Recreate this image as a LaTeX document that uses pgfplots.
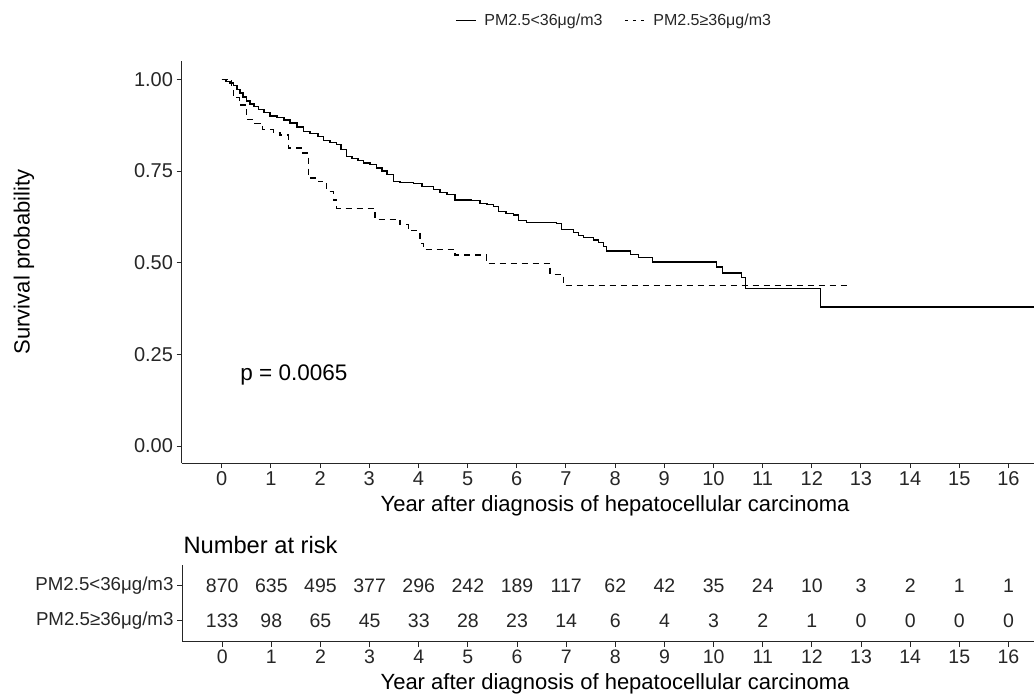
\documentclass[border=0pt]{standalone}
\usepackage{fontspec}
\setmainfont{Liberation Sans}
\usepackage{pgfplots}
\pgfplotsset{compat=1.18}
\newcommand{\fs}[1]{\fontsize{#1}{1.2\dimexpr#1\relax}\selectfont}
\begin{document}
\begin{tikzpicture}
\useasboundingbox (0bp,0bp) rectangle (1034bp,-695bp);
\begin{axis}[
  at={(181.5bp,-463bp)}, anchor=south west,
  scale only axis, width=852.5bp, height=402bp,
  xmin=-0.818, xmax=16.52, ymin=-0.0464, ymax=1.05,
  axis x line*=bottom, axis y line*=left,
  axis line style={-, black!85, line width=0.9bp},
  xtick={0,...,16}, ytick={0,0.25,0.5,0.75,1},
  tick style={black!85, line width=0.9bp}, major tick length=5bp, tick align=outside,
  yticklabel style={/pgf/number format/.cd, fixed, fixed zerofill, precision=2},
  ticklabel style={font=\fs{20bp}, text=black!85},
  /pgf/number format/assume math mode=true,
  legend style={at={(0.5076,1.102)}, anchor=center, draw=none, fill=none,
    font=\fs{16bp}, text=black!85, legend columns=2,
    /tikz/every odd column/.append style={column sep=6bp},
    /tikz/every even column/.append style={column sep=20bp}},
  legend image code/.code={\draw[#1, line width=0.9bp] (0bp,0bp) -- (20bp,0bp);},
]
\addplot[const plot, black, line width=1.2bp] coordinates {
(0,1.000) (0.087,0.995) (0.169,0.990) (0.236,0.984) (0.311,0.972) (0.372,0.963)
(0.433,0.952) (0.509,0.941) (0.576,0.933) (0.657,0.925) (0.745,0.918) (0.860,0.910)
(0.982,0.900) (1.125,0.895) (1.267,0.889) (1.389,0.881) (1.532,0.870) (1.660,0.858)
(1.796,0.852) (1.959,0.845) (2.067,0.833) (2.203,0.828) (2.339,0.822) (2.427,0.808)
(2.543,0.790) (2.651,0.785) (2.773,0.778) (2.880,0.772) (3.017,0.767) (3.153,0.758)
(3.261,0.750) (3.362,0.740) (3.491,0.721) (3.627,0.719) (3.898,0.715) (4.075,0.708)
(4.304,0.699) (4.441,0.692) (4.583,0.685) (4.746,0.671) (5.085,0.669) (5.254,0.662)
(5.397,0.658) (5.525,0.653) (5.627,0.639) (5.783,0.634) (5.932,0.630) (6.033,0.616)
(6.204,0.609) (6.815,0.607) (6.916,0.591) (7.152,0.582) (7.254,0.575) (7.356,0.569)
(7.559,0.562) (7.661,0.554) (7.762,0.543) (7.832,0.532) (8.306,0.523) (8.474,0.513)
(8.767,0.502) (10.069,0.488) (10.191,0.472) (10.565,0.459) (10.659,0.429)
(12.185,0.379) (16.8,0.379)
};
\addlegendentry{PM2.5<36μg/m3}
\addplot[const plot, black, line width=1.2bp, dash pattern=on 6bp off 5bp,
  legend image code/.code={\draw[black, line width=0.9bp, dash pattern=on 3.5bp off 4.5bp] (0bp,0bp) -- (20bp,0bp);}] coordinates {
(0,1.000) (0.203,0.970) (0.236,0.950) (0.358,0.930) (0.509,0.890) (0.677,0.880)
(0.834,0.863) (1.050,0.855) (1.186,0.848) (1.355,0.813) (1.648,0.799) (1.762,0.731)
(1.965,0.721) (2.136,0.694) (2.270,0.671) (2.339,0.648) (3.118,0.618) (3.627,0.603)
(3.796,0.587) (4.034,0.553) (4.101,0.536) (4.746,0.521) (5.386,0.498) (6.678,0.468)
(6.949,0.438) (12.72,0.438)
};
\addlegendentry{PM2.5≥36μg/m3}
\node[anchor=west, font=\fs{22.5bp}, text=black] at (axis cs:0.31,0.193) {p = 0.0065};
\end{axis}

\begin{axis}[
  at={(182bp,-641.7bp)}, anchor=south west,
  scale only axis, width=852bp, height=76.7bp,
  xmin=-0.818, xmax=16.52, ymin=0.4, ymax=2.6,
  axis x line*=bottom, axis y line*=left,
  axis line style={-, black!85, line width=0.9bp},
  xtick={0,...,16}, ytick={1,2},
  yticklabels={PM2.5≥36μg/m3, PM2.5<36μg/m3},
  tick style={black!85, line width=0.9bp}, major tick length=5bp, tick align=outside,
  ticklabel style={font=\fs{19.5bp}, text=black!85},
  yticklabel style={font=\fs{18.7bp}},
  /pgf/number format/assume math mode=true,
]
\addplot[draw=none, mark=none, nodes near coords, point meta=explicit symbolic,
  nodes near coords style={anchor=center, font=\fs{19.5bp}, text=black!85}]
  table[meta=n] {
x y n
0 2 870
1 2 635
2 2 495
3 2 377
4 2 296
5 2 242
6 2 189
7 2 117
8 2 62
9 2 42
10 2 35
11 2 24
12 2 10
13 2 3
14 2 2
15 2 1
16 2 1
0 1 133
1 1 98
2 1 65
3 1 45
4 1 33
5 1 28
6 1 23
7 1 14
8 1 6
9 1 4
10 1 3
11 1 2
12 1 1
13 1 0
14 1 0
15 1 0
16 1 0
};
\end{axis}

\node[rotate=90, font=\fs{22bp}, text=black] at (24bp,-262bp) {Survival probability};
\node[font=\fs{22bp}, text=black] at (615bp,-506bp) {Year after diagnosis of hepatocellular carcinoma};
\node[anchor=west, font=\fs{23.7bp}, text=black] at (180bp,-545bp) {Number at risk};
\node[font=\fs{22bp}, text=black] at (615bp,-684bp) {Year after diagnosis of hepatocellular carcinoma};
\end{tikzpicture}
\end{document}
